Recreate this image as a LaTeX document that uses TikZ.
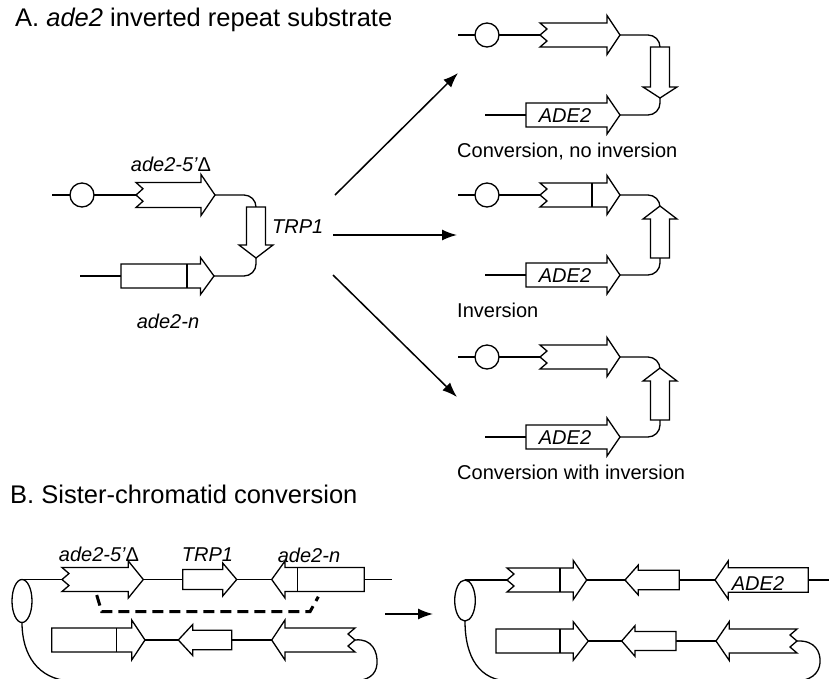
\documentclass[tikz,border=0pt]{standalone}
\usepackage{fontspec}
\setmainfont{Liberation Sans}
\usetikzlibrary{arrows.meta}

\tikzset{
  gene/.style={draw, line width=1.3pt, fill=white, line join=miter},
  strand/.style={line width=1.3pt},
  react/.style={line width=1.5pt, -{Latex[length=15pt,width=11pt]}},
  genelabel/.style={font=\fontsize{20}{24}\selectfont\itshape, inner sep=0pt, anchor=base},
  captiontext/.style={font=\fontsize{20}{24}\selectfont, inner sep=0pt, anchor=base west},
  paneltitle/.style={font=\fontsize{25.5}{30}\selectfont, inner sep=0pt, anchor=base west},
  bead/.style={circle, draw, line width=1.3pt, fill=white, minimum size=24pt, inner sep=0pt},
  pairing/.style={line width=3pt, dash pattern=on 11pt off 6pt},
}

% gene arrow: tail x, head base x, tip x, centre y, body half height, head half height
\newcommand\Gene[6]{\draw[gene] (#1,{#4-#5}) -- (#2,{#4-#5}) -- (#2,{#4-#6}) -- (#3,#4)
  -- (#2,{#4+#6}) -- (#2,{#4+#5}) -- (#1,{#4+#5}) -- cycle;}
% same, with a broken (zigzag) tail; #7 is the depth of the zigzag
\newcommand\GeneZ[7]{\draw[gene] (#1,{#4-#5}) -- (#2,{#4-#5}) -- (#2,{#4-#6}) -- (#3,#4)
  -- (#2,{#4+#6}) -- (#2,{#4+#5}) -- (#1,{#4+#5}) -- ({#1+(#7)},{#4+#5/2})
  -- (#1,#4) -- ({#1+(#7)},{#4-#5/2}) -- cycle;}
% vertical gene arrow: x, tail y, head base y, tip y, body half width, head half width
\newcommand\GeneV[6]{\draw[gene] ({#1-#5},#2) -- ({#1-#5},#3) -- ({#1-#6},#3) -- (#1,#4)
  -- ({#1+#6},#3) -- ({#1+#5},#3) -- ({#1+#5},#2) -- cycle;}
% internal boundary of a gene: x, centre y, half height
\newcommand\Split[3]{\draw[strand] (#1,{#2-#3}) -- (#1,{#2+#3});}

\begin{document}
\begin{tikzpicture}[x=1pt, y=-1pt]
\useasboundingbox (0,0) rectangle (829,678);

% ---------------- Panel A ----------------
\node[paneltitle] (titleA) at (15,26.5) {A. \textit{ade2} inverted repeat substrate};

% substrate
\draw[strand] (52,195) -- (137,195);
\node[bead] (bead0) at (82,195) {};
\GeneZ{136}{201}{215}{195}{12.5}{20.5}{7}
\draw[strand, rounded corners=12pt] (215,195) -- (256,195) -- (256,207);
\GeneV{256}{207}{245}{258}{9.5}{17}
\draw[strand, rounded corners=12pt] (256,258) -- (256,276) -- (214,276);
\draw[strand] (80,276) -- (121,276);
\Gene{121}{200.5}{214}{276}{12}{18.5}
\Split{187}{276}{12}
\node[genelabel] (lab5d) at (171,171.7) {ade2-5'{\upshape Δ}};
\node[genelabel, anchor=base west] (labtrp) at (272,233) {TRP1};
\node[genelabel] (labn) at (168,328) {ade2-n};

% outcomes
\coordinate (srcUp) at (335,195);
\coordinate (dstUp) at (458,73);
\coordinate (srcMid) at (333,235);
\coordinate (dstMid) at (457,235);
\coordinate (srcDown) at (333,275);
\coordinate (dstDown) at (457,397);
\draw[react] (srcUp) -- (dstUp);
\draw[react] (srcMid) -- (dstMid);
\draw[react] (srcDown) -- (dstDown);

% conversion, no inversion
\draw[strand] (458,35) -- (541,35);
\node[bead] (bead1) at (487,35) {};
\GeneZ{540}{607}{620}{35}{12}{19.5}{7}
\draw[strand, rounded corners=12pt] (620,35) -- (660,35) -- (660,47);
\GeneV{660}{47}{87}{98}{9.5}{17}
\draw[strand, rounded corners=12pt] (660,98) -- (660,115) -- (620,115);
\draw[strand] (485,115) -- (526,115);
\Gene{526}{607}{620}{115}{12}{19}
\node[genelabel] (ade2one) at (565,122) {ADE2};
\node[captiontext] (cap1) at (457,157) {Conversion, no inversion};

% inversion
\draw[strand] (458,195) -- (541,195);
\node[bead] (bead2) at (487,195) {};
\GeneZ{540}{607}{620}{195}{12}{19.5}{7}
\Split{592}{195}{12}
\draw[strand, rounded corners=12pt] (620,195) -- (660,195) -- (660,206);
\GeneV{660}{258}{219}{206}{9.5}{17}
\draw[strand, rounded corners=12pt] (660,258) -- (660,275) -- (620,275);
\draw[strand] (485,275) -- (526,275);
\Gene{526}{607}{620}{275}{12}{19}
\node[genelabel] (ade2two) at (565,282) {ADE2};
\node[captiontext] (cap2) at (457,317) {Inversion};

% conversion with inversion
\draw[strand] (458,357) -- (541,357);
\node[bead] (bead3) at (487,357) {};
\GeneZ{540}{607}{620}{357}{12}{19.5}{7}
\draw[strand, rounded corners=12pt] (620,357) -- (660,357) -- (660,368);
\GeneV{660}{420}{381}{368}{9.5}{17}
\draw[strand, rounded corners=12pt] (660,420) -- (660,437) -- (620,437);
\draw[strand] (485,437) -- (526,437);
\Gene{526}{607}{620}{437}{12}{19}
\node[genelabel] (ade2three) at (565,444) {ADE2};
\node[captiontext] (cap3) at (457,479) {Conversion with inversion};

% ---------------- Panel B ----------------
\node[paneltitle] (titleB) at (10,503.3) {B. Sister-chromatid conversion};

% sister chromatids before
\begin{scope}
\clip (0,0) rectangle (829,678);
\draw[strand] (355,640) .. controls (372,638) and (378,652) .. (377,664)
  .. controls (376,675) and (368,681) .. (352,681) -- (70,681)
  .. controls (38,679) and (22,655) .. (22,622.5);
\draw[strand] (797,641) .. controls (815,640) and (821,652) .. (820,663)
  .. controls (819,674) and (810,681) .. (795,681) -- (510,681)
  .. controls (480,681) and (465,658) .. (465,621);
\end{scope}
\draw[strand] (22,601) ellipse [x radius=10, y radius=21.5];
\draw[strand] (22,579.5) -- (392,579.5);
\GeneZ{62}{128.3}{143.3}{579.5}{12}{18.5}{7}
\Gene{182.7}{222.7}{236.7}{579.5}{10}{16.5}
\Gene{364.3}{285}{271.7}{579.5}{12}{18.5}
\Split{297.7}{579.5}{12}
\node[genelabel] (labB5d) at (99,561.7) {ade2-5'{\upshape Δ}};
\node[genelabel] (labBtrp) at (207.5,561.7) {TRP1};
\node[genelabel] (labBn) at (309,562) {ade2-n};
\draw[pairing] (96.7,595) -- (101.7,611.7) -- (310,611.7) -- (318.3,596.7);

\draw[strand] (52,640) -- (355,640);
\Gene{51.7}{131.7}{145}{640}{12}{20}
\Split{116.7}{640}{12}
\Gene{231.7}{192.7}{178.3}{640}{9.7}{15.5}
\GeneZ{355}{285}{271.7}{640}{12}{20}{-7}

\coordinate (srcB) at (385,614);
\coordinate (dstB) at (433,614);
\draw[react] (srcB) -- (dstB);

% sister chromatids after
\draw[strand] (465,600.5) ellipse [x radius=10.3, y radius=20.5];
\draw[strand] (465,580) -- (829,580);
\GeneZ{507}{573.3}{586.7}{580}{12}{19.5}{7}
\Split{560}{580}{12}
\Gene{679.3}{638.3}{625}{580}{9.7}{15}
\Gene{808.3}{728.3}{715}{580}{12.3}{19.2}
\node[genelabel] (ade2B) at (758,590) {ADE2};

\draw[strand] (496,641) -- (797,641);
\Gene{496}{573.3}{588.3}{641}{12}{19.2}
\Split{560}{641}{12}
\Gene{676}{635}{621.7}{641}{9.5}{15.3}
\GeneZ{797}{729.3}{716}{641}{12}{19.5}{-7}

\end{tikzpicture}
\end{document}
